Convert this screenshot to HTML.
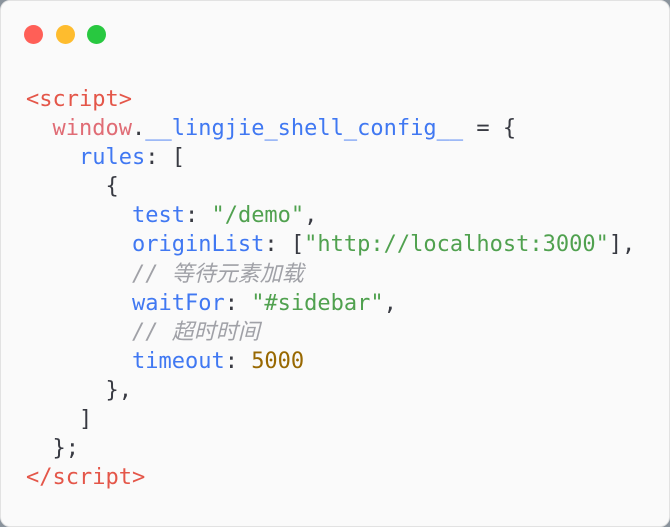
<!DOCTYPE html>
<html><head><meta charset="utf-8"><style>
html,body{margin:0;padding:0;width:670px;height:527px;background:#8a939c;overflow:hidden}
.card{position:absolute;left:0;top:0;width:668px;height:525px;background:#fafafa;border:1px solid #e2e2e2;border-radius:10px}
.dot{position:absolute;top:24px;width:19px;height:19px;border-radius:50%}
pre{position:absolute;left:25px;top:84px;margin:0;font-family:"DejaVu Sans Mono","Liberation Mono","Noto Sans CJK SC",monospace;font-size:22px;line-height:29.1px;color:#383a42}
.t{color:#e45649}.w{color:#e06c75}.b{color:#4078f2}.g{color:#50a14f}.c{color:#a0a1a7;font-style:italic}.n{color:#986801}
</style></head><body>
<div class="card">
<div class="dot" style="left:23px;background:#ff5f57"></div>
<div class="dot" style="left:55px;background:#febc2e"></div>
<div class="dot" style="left:86px;background:#28c840"></div>
<pre><span class="t">&lt;script&gt;</span>
  <span class="w">window</span>.<span class="b">__lingjie_shell_config__</span> = {
    <span class="b">rules</span>: [
      {
        <span class="b">test</span>: <span class="g">"/demo"</span>,
        <span class="b">originList</span>: [<span class="g">"http://localhost:3000"</span>],
        <span class="c">// 等待元素加载</span>
        <span class="b">waitFor</span>: <span class="g">"#sidebar"</span>,
        <span class="c">// 超时时间</span>
        <span class="b">timeout</span>: <span class="n">5000</span>
      },
    ]
  };
<span class="t">&lt;/script&gt;</span></pre>
</div>
</body></html>
